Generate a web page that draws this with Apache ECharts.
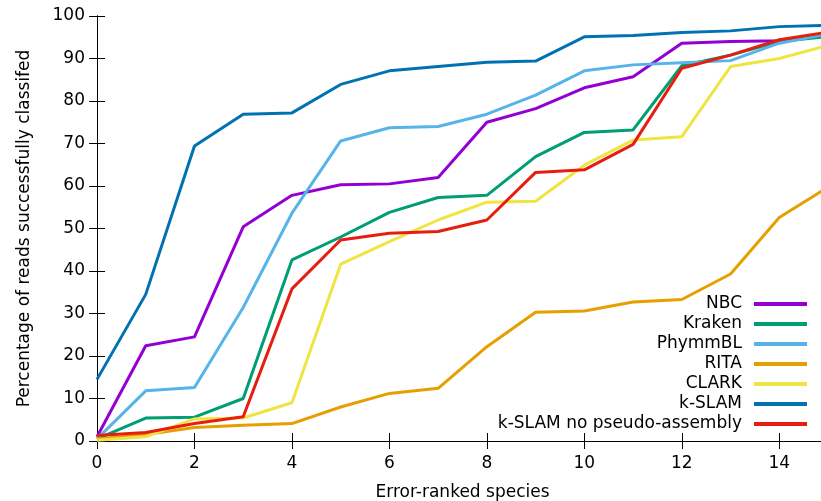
<!DOCTYPE html>
<html>
<head>
<meta charset="utf-8">
<script src="https://cdn.jsdelivr.net/npm/echarts@6/dist/echarts.min.js"></script>
<style>
html,body{margin:0;padding:0;background:#fff;}
#chart{width:821px;height:501px;}
</style>
</head>
<body>
<div id="chart"></div>
<script>
var xValues = [0,1,2,3,4,5,6,7,8,9,10,11,12,13,14,15];
var seriesNames = ["NBC","Kraken","PhymmBL","RITA","CLARK","k-SLAM","k-SLAM no pseudo-assembly"];
var nbc     = [1.0, 22.4, 24.5, 50.4, 57.8, 60.3, 60.5, 62.0, 75.0, 78.2, 83.1, 85.7, 93.6, 94.0, 94.2, 95.5];
var kraken  = [0.5, 5.4, 5.6, 10.0, 42.6, 48.0, 53.8, 57.3, 57.8, 66.9, 72.6, 73.2, 88.3, 90.8, 94.0, 95.2];
var phymmbl = [0.5, 11.8, 12.6, 31.4, 53.6, 70.6, 73.7, 74.0, 76.9, 81.4, 87.1, 88.5, 89.0, 89.5, 93.6, 95.8];
var rita    = [0.5, 1.5, 3.2, 3.7, 4.1, 8.0, 11.2, 12.4, 22.2, 30.3, 30.6, 32.7, 33.3, 39.3, 52.6, 59.7];
var clark   = [0.2, 1.0, 5.2, 5.4, 9.0, 41.6, 46.9, 52.0, 56.2, 56.4, 64.9, 70.8, 71.6, 88.1, 90.0, 93.1];
var kslam   = [14.5, 34.5, 69.4, 76.9, 77.2, 83.9, 87.1, 88.1, 89.1, 89.4, 95.1, 95.4, 96.1, 96.5, 97.5, 97.8];
var kslamNp = [1.3, 2.0, 4.1, 5.7, 35.8, 47.3, 48.9, 49.3, 52.0, 63.2, 63.8, 69.8, 87.7, 90.8, 94.4, 96.2];
var colors  = ["#9400d3","#009e73","#56b4e9","#e69f00","#f0e442","#0072b2","#e51e10"];
var allData = [nbc, kraken, phymmbl, rita, clark, kslam, kslamNp];

var FONT = "DejaVu Sans";
var chart = echarts.init(document.getElementById('chart'));

function pairs(arr){ return arr.map(function(v,i){ return [xValues[i], v]; }); }

var axisBase = {
  type: 'value',
  axisLine: {show: true, lineStyle: {color: '#000', width: 1}},
  axisTick: {show: true, inside: true, length: 8, lineStyle: {color: '#000', width: 1}},
  splitLine: {show: false}
};

var option = {
  animation: false,
  backgroundColor: '#fff',
  grid: {left: 97, top: 16, right: -7, bottom: 60, containLabel: false, outerBoundsMode: 'none'},
  xAxis: [
    Object.assign({}, axisBase, {
      position: 'bottom', min: 0, max: 15, interval: 2,
      name: 'Error-ranked species', nameLocation: 'middle', nameGap: 43,
      nameTextStyle: {fontFamily: FONT, fontSize: 17, color: '#000'},
      axisLabel: {fontFamily: FONT, fontSize: 17, color: '#000', margin: 14,
        formatter: function(v){ return v % 2 === 0 ? String(v) : ''; }}
    }),
    Object.assign({}, axisBase, {
      position: 'top', min: 0, max: 15, interval: 2,
      axisLabel: {show: false}
    })
  ],
  yAxis: [
    Object.assign({}, axisBase, {
      position: 'left', min: 0, max: 100, interval: 10,
      name: 'Percentage of reads successfully classifed', nameLocation: 'middle', nameGap: 64,
      nameTextStyle: {fontFamily: FONT, fontSize: 17, color: '#000'},
      axisLabel: {fontFamily: FONT, fontSize: 17, color: '#000', margin: 12}
    }),
    Object.assign({}, axisBase, {
      position: 'right', min: 0, max: 100, interval: 10,
      axisLabel: {show: false}
    })
  ],
  legend: {
    orient: 'vertical', align: 'right', right: 14, top: 294, padding: 0, itemGap: 0,
    icon: 'rect', itemWidth: 53, itemHeight: 4,
    textStyle: {fontFamily: FONT, fontSize: 17, color: '#000', lineHeight: 20, padding: [0, 7, 0, 0]},
    data: seriesNames
  },
  series: seriesNames.map(function(name, k){
    return {
      name: name, type: 'line', data: pairs(allData[k]),
      xAxisIndex: 0, yAxisIndex: 0,
      showSymbol: false, symbol: 'none', clip: true,
      color: colors[k],
      lineStyle: {color: colors[k], width: 3},
      itemStyle: {color: colors[k]}
    };
  })
};
chart.setOption(option);
</script>
</body>
</html>
